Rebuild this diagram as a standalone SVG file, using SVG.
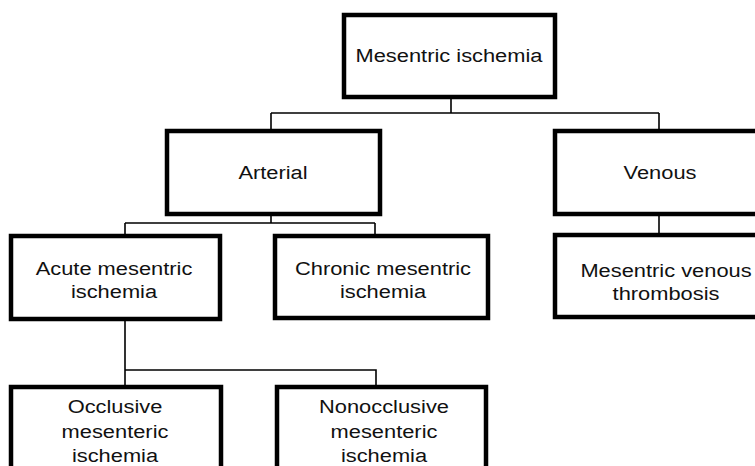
<svg xmlns="http://www.w3.org/2000/svg" width="755" height="466" viewBox="0 0 755 466">
<style>
.box{fill:#fff;stroke:#000;stroke-width:4.5}
.lbl{font-family:"Liberation Sans",Arial,sans-serif;font-size:19px;fill:#111;text-anchor:middle}
.conn{fill:none;stroke:#000;stroke-width:1.6}
</style>
<rect width="755" height="466" fill="#fff"/>
<g id="connectors">
<path class="conn" d="M451 99V113M271 113H659M271 113V129M659 113V129"/>
<path class="conn" d="M271 216V223M125 223H375M125 223V234M375 223V234"/>
<path class="conn" d="M659 216V233"/>
<path class="conn" d="M125 321V385M125 370H376V385"/>
</g>
<g id="mesentric-ischemia">
<rect class="box" x="344" y="15" width="211" height="82"/>
<text class="lbl" transform="translate(449 62) scale(1.15 1)">Mesentric ischemia</text>
</g>
<g id="arterial">
<rect class="box" x="167" y="131" width="213" height="83"/>
<text class="lbl" transform="translate(273 179) scale(1.15 1)">Arterial</text>
</g>
<g id="venous">
<rect class="box" x="555" y="131" width="230" height="83"/>
<text class="lbl" transform="translate(660 179) scale(1.15 1)">Venous</text>
</g>
<g id="acute">
<rect class="box" x="11" y="236" width="209" height="83"/>
<text class="lbl" transform="translate(114 275) scale(1.15 1)">Acute mesentric</text>
<text class="lbl" transform="translate(114 298) scale(1.15 1)">ischemia</text>
</g>
<g id="chronic">
<rect class="box" x="275" y="236" width="213" height="82"/>
<text class="lbl" transform="translate(383 275) scale(1.15 1)">Chronic mesentric</text>
<text class="lbl" transform="translate(383 298) scale(1.15 1)">ischemia</text>
</g>
<g id="venous-thrombosis">
<rect class="box" x="555" y="235" width="230" height="82"/>
<text class="lbl" transform="translate(666 277) scale(1.15 1)">Mesentric venous</text>
<text class="lbl" transform="translate(666 300) scale(1.15 1)">thrombosis</text>
</g>
<g id="occlusive">
<rect class="box" x="11" y="387" width="210" height="100"/>
<text class="lbl" transform="translate(115 413) scale(1.15 1)">Occlusive</text>
<text class="lbl" transform="translate(115 437.5) scale(1.15 1)">mesenteric</text>
<text class="lbl" transform="translate(115 461.5) scale(1.15 1)">ischemia</text>
</g>
<g id="nonocclusive">
<rect class="box" x="277" y="387" width="209" height="100"/>
<text class="lbl" transform="translate(384 413) scale(1.15 1)">Nonocclusive</text>
<text class="lbl" transform="translate(384 437.5) scale(1.15 1)">mesenteric</text>
<text class="lbl" transform="translate(384 461.5) scale(1.15 1)">ischemia</text>
</g>
</svg>
